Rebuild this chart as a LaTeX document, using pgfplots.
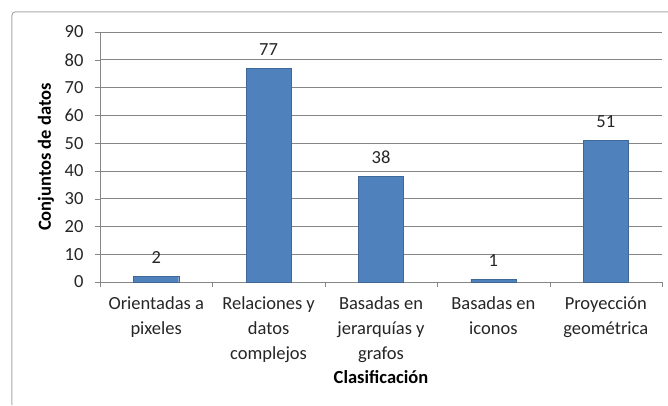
\documentclass[border=0pt]{standalone}
\usepackage{fontspec}
\setmainfont{Carlito}
\usepackage{pgfplots}
\pgfplotsset{compat=1.18}
\definecolor{barblue}{RGB}{79,129,189}
\definecolor{gridgray}{RGB}{134,134,134}
\definecolor{framegray}{RGB}{170,170,170}
\newcommand{\chartfont}{\fontsize{18.5}{25}\selectfont}
\begin{document}
\begin{tikzpicture}
\useasboundingbox (-100pt,-123pt) rectangle (568pt,282pt);
\fill[white] (-100pt,-123pt) rectangle (568pt,282pt);
\draw[framegray, line width=1pt, rounded corners=3pt] (-88pt,-123pt) -- (-88pt,270pt) -- (568pt,270pt);
\begin{axis}[
  at={(0pt,0pt)}, anchor=south west,
  scale only axis,
  width=562pt, height=250pt,
  xmin=-0.5, xmax=4.5,
  ymin=0, ymax=90,
  ytick={0,10,...,90},
  xtick={0,1,2,3,4},
  xticklabels={{Orientadas a\\pixeles},{Relaciones y\\datos\\complejos},{Basadas en\\jerarquías y\\grafos},{Basadas en\\iconos},{Proyección\\geométrica}},
  minor xtick={-0.5,0.5,1.5,2.5,3.5,4.5},
  major x tick style={draw=none},
  minor x tick style={gridgray},
  y tick style={gridgray},
  tick align=outside,
  major tick length=5pt, minor tick length=5pt,
  axis x line*=bottom, axis y line*=left,
  axis line style={gridgray, -},
  ymajorgrids, grid style={gridgray, line width=0.6pt},
  /pgf/number format/assume math mode=true,
  tick label style={font=\chartfont, text=black!85},
  xticklabel style={align=center, yshift=-6pt},
  yticklabel style={xshift=-8pt},
  ylabel={\textbf{Conjuntos de datos}},
  ylabel style={font=\chartfont, at={(axis description cs:0,0.5)}, anchor=center, yshift=54pt},
  xlabel={\textbf{Clasificación}},
  xlabel style={font=\chartfont, at={(axis description cs:0.5,0)}, anchor=center, yshift=-95pt},
  ybar, bar width=45pt,
  nodes near coords,
  every node near coord/.append style={font=\chartfont, text=black!85, anchor=center, yshift=19pt},
]
\addplot[fill=barblue, draw=barblue!80!black] coordinates {(0,2) (1,77) (2,38) (3,1) (4,51)};
\end{axis}
\end{tikzpicture}
\end{document}
